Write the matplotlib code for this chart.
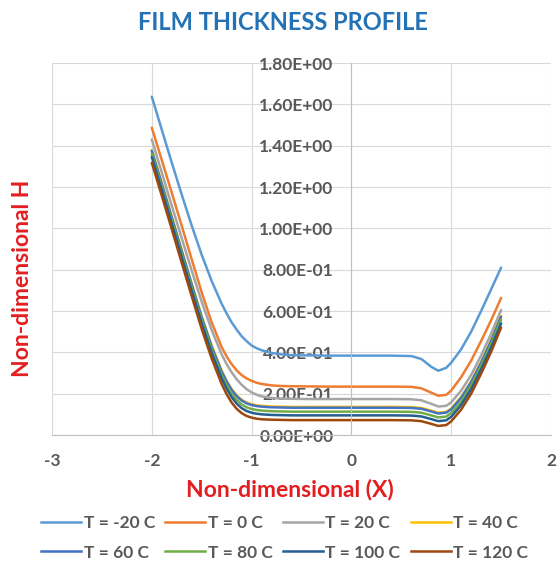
import matplotlib.pyplot as plt
import numpy as np
from matplotlib.lines import Line2D

plt.rcParams['font.family'] = ['Lato', 'DejaVu Sans']

# Film thickness profiles, one series per temperature
x = [-2.0, -1.9, -1.8, -1.7, -1.6, -1.5, -1.4, -1.3, -1.25, -1.2, -1.15, -1.1, -1.05, -1.0, -0.95, -0.9,
     -0.8, -0.7, -0.6, -0.4, -0.2, 0.0, 0.2, 0.4, 0.6, 0.7, 0.8, 0.87, 0.95, 1.0, 1.1, 1.2, 1.3, 1.4, 1.5]

h_m20 = [1.637, 1.477, 1.318, 1.163, 1.013, 0.872, 0.745, 0.635, 0.588, 0.545, 0.51, 0.478, 0.454, 0.433, 0.42, 0.41,
         0.397, 0.39, 0.386,
         0.385, 0.384, 0.384, 0.384, 0.384, 0.382, 0.368, 0.33, 0.311, 0.325, 0.35, 0.415, 0.50, 0.60, 0.705, 0.81]
h_0 = [1.487, 1.33, 1.172, 1.012, 0.85, 0.69, 0.545, 0.425, 0.38, 0.343, 0.313, 0.29, 0.274, 0.262, 0.253, 0.247,
       0.24, 0.237, 0.236,
       0.235, 0.234, 0.234, 0.234, 0.234, 0.233, 0.226, 0.205, 0.19, 0.194, 0.215, 0.28, 0.36, 0.455, 0.555, 0.663]
h_20 = [1.43, 1.27, 1.11, 0.952, 0.795, 0.645, 0.508, 0.39, 0.343, 0.303, 0.27, 0.243, 0.222, 0.206, 0.195, 0.187,
        0.179, 0.176, 0.175,
        0.174, 0.174, 0.174, 0.174, 0.174, 0.173, 0.168, 0.151, 0.138, 0.141, 0.158, 0.215, 0.29, 0.385, 0.49, 0.605]
h_40 = [1.379, 1.219, 1.057, 0.894, 0.732, 0.574, 0.432, 0.311, 0.262, 0.222, 0.192, 0.171, 0.157, 0.149, 0.144, 0.141,
        0.138, 0.137, 0.136,
        0.136, 0.136, 0.136, 0.136, 0.136, 0.135, 0.131, 0.118, 0.108, 0.112, 0.128, 0.184, 0.26, 0.354, 0.459, 0.576]
h_60 = [1.375, 1.215, 1.053, 0.89, 0.728, 0.57, 0.428, 0.307, 0.258, 0.218, 0.188, 0.167, 0.153, 0.145, 0.14, 0.137,
        0.134, 0.133, 0.132,
        0.132, 0.132, 0.132, 0.132, 0.132, 0.131, 0.127, 0.114, 0.104, 0.108, 0.124, 0.18, 0.256, 0.35, 0.455, 0.572]
h_80 = [1.36, 1.20, 1.038, 0.875, 0.713, 0.555, 0.413, 0.29, 0.24, 0.2, 0.17, 0.148, 0.134, 0.126, 0.121, 0.118,
        0.115, 0.114, 0.113,
        0.113, 0.113, 0.113, 0.113, 0.113, 0.112, 0.108, 0.095, 0.085, 0.089, 0.106, 0.162, 0.24, 0.335, 0.44, 0.557]
h_100 = [1.345, 1.185, 1.023, 0.86, 0.698, 0.54, 0.397, 0.274, 0.224, 0.183, 0.152, 0.13, 0.116, 0.108, 0.103, 0.1,
         0.097, 0.096, 0.095,
         0.095, 0.095, 0.095, 0.095, 0.095, 0.094, 0.09, 0.077, 0.067, 0.071, 0.088, 0.145, 0.222, 0.318, 0.423, 0.54]
h_120 = [1.317, 1.158, 0.996, 0.833, 0.671, 0.513, 0.37, 0.247, 0.197, 0.157, 0.127, 0.106, 0.092, 0.084, 0.079, 0.076,
         0.074, 0.073, 0.072,
         0.072, 0.072, 0.072, 0.072, 0.072, 0.071, 0.067, 0.054, 0.044, 0.048, 0.066, 0.123, 0.2, 0.297, 0.402, 0.52]

labels = ['T = -20 C', 'T = 0 C', 'T = 20 C', 'T = 40 C',
          'T = 60 C', 'T = 80 C', 'T = 100 C', 'T = 120 C']
series = [h_m20, h_0, h_20, h_40, h_60, h_80, h_100, h_120]
colors = ['#5B9BD5', '#ED7D31', '#A5A5A5', '#FFC000',
          '#4472C4', '#70AD47', '#255E91', '#9E480E']

x_ticks = [-3, -2, -1, 0, 1, 2]
y_ticks = [0.0, 0.2, 0.4, 0.6, 0.8, 1.0, 1.2, 1.4, 1.6, 1.8]

fig = plt.figure(figsize=(5.58, 5.69), dpi=100)
ax = fig.add_axes([52 / 558, 1 - 435 / 569, 499 / 558, 372 / 569])

for h, c in zip(series, colors):
    ax.plot(x, h, color=c, lw=1.8, solid_capstyle='round', solid_joinstyle='round')

ax.set_xlim(-3, 2)
ax.set_ylim(0, 1.8)
ax.set_xticks(x_ticks)
ax.set_yticks(y_ticks)
ax.set_xticklabels([str(t) for t in x_ticks])
ax.set_yticklabels([format(t, '.2E') for t in y_ticks])

# light Excel-style grid, y axis crossing at x = 0
ax.grid(True, color='#D9D9D9', lw=0.8)
ax.set_axisbelow(True)
for s in ['top', 'right']:
    ax.spines[s].set_visible(False)
ax.spines['left'].set_position(('data', 0))
ax.spines['left'].set_color('#BFBFBF')
ax.spines['bottom'].set_color('#BFBFBF')
ax.spines['left'].set_linewidth(0.8)
ax.spines['bottom'].set_linewidth(0.8)

ax.tick_params(axis='both', length=0, colors='#595959', labelsize=12.5)
ax.tick_params(axis='y', pad=13)
ax.tick_params(axis='x', pad=13)
for lab in ax.get_xticklabels() + ax.get_yticklabels():
    lab.set_fontweight('bold')

fig.text(0.507, 1 - 23 / 569, 'FILM THICKNESS PROFILE', ha='center', va='center',
         fontsize=17, fontweight='bold', color='#2372B6')
fig.text(0.52, 1 - 490 / 569, 'Non-dimensional (X)', ha='center', va='center',
         fontsize=16.5, fontweight='bold', color='#E41E20')
fig.text(0.040, 1 - 278 / 569, 'Non-dimensional H', ha='center', va='center', rotation=90,
         fontsize=16.5, fontweight='bold', color='#E41E20')

# legend filled row by row
handles = [Line2D([], [], color=c, lw=1.8) for c in colors]
order = [0, 4, 1, 5, 2, 6, 3, 7]
leg = fig.legend([handles[i] for i in order], [labels[i] for i in order],
                 ncol=4, loc='center', bbox_to_anchor=(0.51, 1 - 538 / 569),
                 frameon=False, handlelength=2.3, handletextpad=0.15,
                 columnspacing=0.6, labelspacing=0.75, prop={'weight': 'bold', 'size': 12.5})
for t in leg.get_texts():
    t.set_color('#595959')

fig.savefig('out.png', dpi=100)
